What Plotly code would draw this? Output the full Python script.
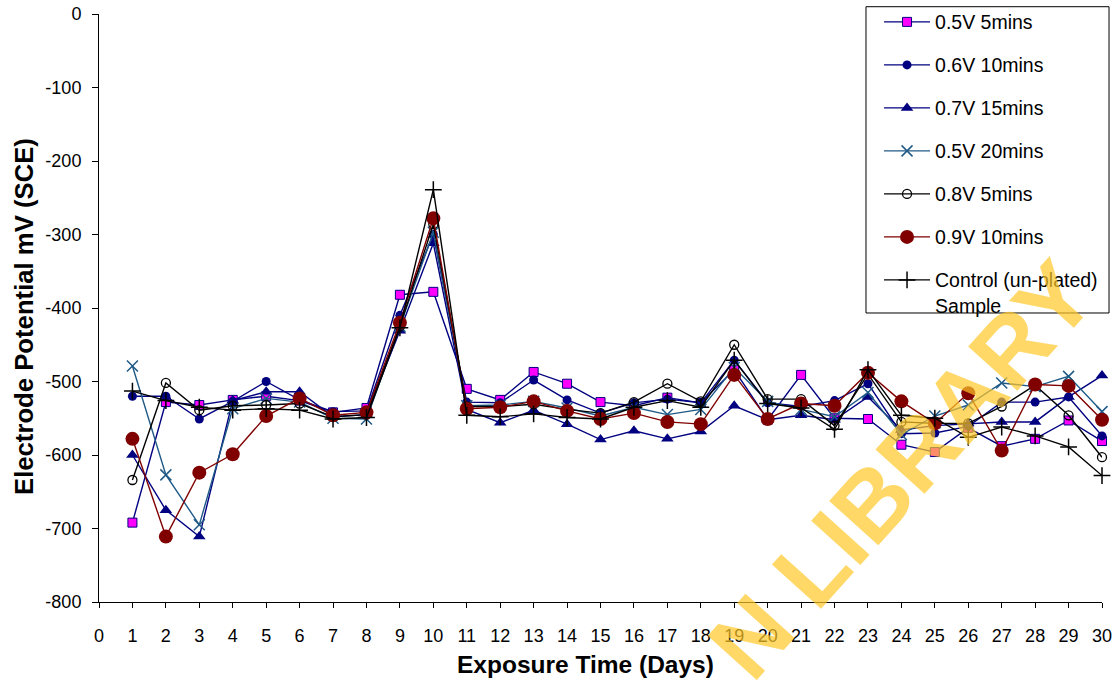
import plotly.graph_objects as go

days = list(range(1, 31))

s_05v_5 = [-692, -528, -532, -525, -520, -526, -542, -536, -382, -378,
           -510, -525, -487, -503, -528, -533, -522, -529, -484, -552,
           -491, -550, -551, -586, -596, -563, -588, -578, -553, -581]
s_06v_10 = [-520, -520, -551, -527, -500, -525, -541, -540, -410, -300,
            -528, -529, -498, -525, -543, -529, -524, -529, -471, -529,
            -534, -526, -503, -571, -570, -561, -528, -528, -521, -574]
s_07v_15 = [-600, -675, -711, -526, -514, -514, -548, -545, -431, -312,
            -538, -556, -539, -558, -579, -567, -578, -568, -533, -552,
            -546, -552, -521, -566, -560, -557, -555, -555, -521, -492]
s_05v_20 = [-479, -627, -695, -537, -523, -528, -550, -551, -425, -297,
            -533, -532, -527, -536, -547, -535, -545, -538, -481, -527,
            -538, -548, -515, -572, -547, -532, -502, -507, -493, -541]
s_08v_5 = [-634, -502, -539, -533, -532, -530, -548, -545, -425, -286,
           -534, -534, -531, -538, -543, -528, -503, -527, -450, -524,
           -524, -560, -490, -555, -557, -557, -534, -505, -546, -603]
s_09v_10 = [-578, -711, -624, -599, -547, -523, -546, -542, -420, -278,
            -537, -535, -527, -540, -551, -543, -555, -558, -491, -551,
            -530, -533, -488, -527, -557, -516, -594, -504, -506, -552]
s_control = [-513, -526, -535, -539, -537, -539, -551, -549, -427, -239,
             -546, -548, -544, -549, -551, -535, -526, -535, -471, -530,
             -536, -565, -484, -546, -550, -576, -562, -574, -589, -628]

x_ticks = list(range(0, 31))
y_ticks = list(range(-800, 1, 100))

FONT = "Arial, 'Liberation Sans', sans-serif"

series = [
    ("0.5V 5mins", s_05v_5, "#000080",
     dict(symbol="square", size=9, color="#FF00FF", line=dict(color="#000080", width=1))),
    ("0.6V 10mins", s_06v_10, "#000080",
     dict(symbol="circle", size=9, color="#000080", line=dict(color="#000080", width=0))),
    ("0.7V 15mins", s_07v_15, "#000080",
     dict(symbol="triangle-up", size=11, color="#000080", line=dict(color="#000080", width=0))),
    ("0.5V 20mins", s_05v_20, "#1F5A87",
     dict(symbol="x-thin-open", size=11, color="#1F5A87", line=dict(color="#1F5A87", width=1.5))),
    ("0.8V 5mins", s_08v_5, "#000000",
     dict(symbol="circle-open", size=9, color="#000000", line=dict(color="#000000", width=1.3))),
    ("0.9V 10mins", s_09v_10, "#800000",
     dict(symbol="circle", size=14, color="#800000", line=dict(color="#800000", width=0))),
    ("Control (un-plated)<br>Sample", s_control, "#000000",
     dict(symbol="cross-thin-open", size=12, color="#000000", line=dict(color="#000000", width=1.5))),
]

fig = go.Figure()
for i, (name, vals, lc, mk) in enumerate(series):
    fig.add_trace(go.Scatter(
        x=days, y=vals, name=name, mode="lines+markers",
        line=dict(color=lc, width=1.4), marker=mk,
        cliponaxis=False, legendgroup=f"g{i}",
    ))

# legend frame (white box with black border)
fig.add_shape(
    type="rect", xref="paper", yref="paper",
    x0=0.7647, x1=1.007, y0=0.4915, y1=1.0124,
    line=dict(color="black", width=1), fillcolor="white", layer="above",
)

# axis titles
fig.add_annotation(
    text="<b>Exposure Time (Days)</b>", xref="paper", yref="paper",
    x=0.4846, y=-0.107, xanchor="center", yanchor="middle", showarrow=False,
    font=dict(family=FONT, size=24.5, color="black"),
)
fig.add_annotation(
    text="<b>Electrode Potential mV (SCE)</b>", xref="paper", yref="paper",
    x=-0.0748, y=0.4864, xanchor="center", yanchor="middle", showarrow=False,
    textangle=-90, font=dict(family=FONT, size=25.7, color="black"),
)

# watermark
fig.add_annotation(
    text="<b>N LIBRARY</b>", xref="paper", yref="paper", x=0.80, y=0.225,
    xanchor="center", yanchor="middle", textangle=-48, showarrow=False,
    font=dict(family=FONT, size=96, color="rgba(255,200,40,0.7)"),
)

fig.update_layout(
    width=1118, height=684,
    margin=dict(l=99, r=16, t=14, b=82, autoexpand=False),
    paper_bgcolor="white", plot_bgcolor="white",
    font=dict(family=FONT, size=18, color="black"),
    showlegend=True,
    legend=dict(
        x=0.7777, y=1.0192, xanchor="left", yanchor="top",
        bgcolor="rgba(0,0,0,0)", borderwidth=0,
        font=dict(family=FONT, size=19.5, color="black"),
        traceorder="grouped", tracegroupgap=14.65, valign="top",
        itemwidth=46,
    ),
    xaxis=dict(
        range=[0, 30], tickmode="array", tickvals=x_ticks,
        ticktext=[str(v) for v in x_ticks],
        showgrid=False, zeroline=False, showline=True, linecolor="black", linewidth=1,
        ticks="outside", ticklen=5, tickcolor="black", ticklabelstandoff=12,
        tickfont=dict(family=FONT, size=18),
    ),
    yaxis=dict(
        range=[-800, 0], tickmode="array", tickvals=y_ticks,
        ticktext=[str(v) for v in y_ticks],
        showgrid=False, zeroline=False, showline=True, linecolor="black", linewidth=1,
        ticks="outside", ticklen=6, tickcolor="black", ticklabelstandoff=7,
        tickfont=dict(family=FONT, size=18),
    ),
)

fig.write_html("out.html")
